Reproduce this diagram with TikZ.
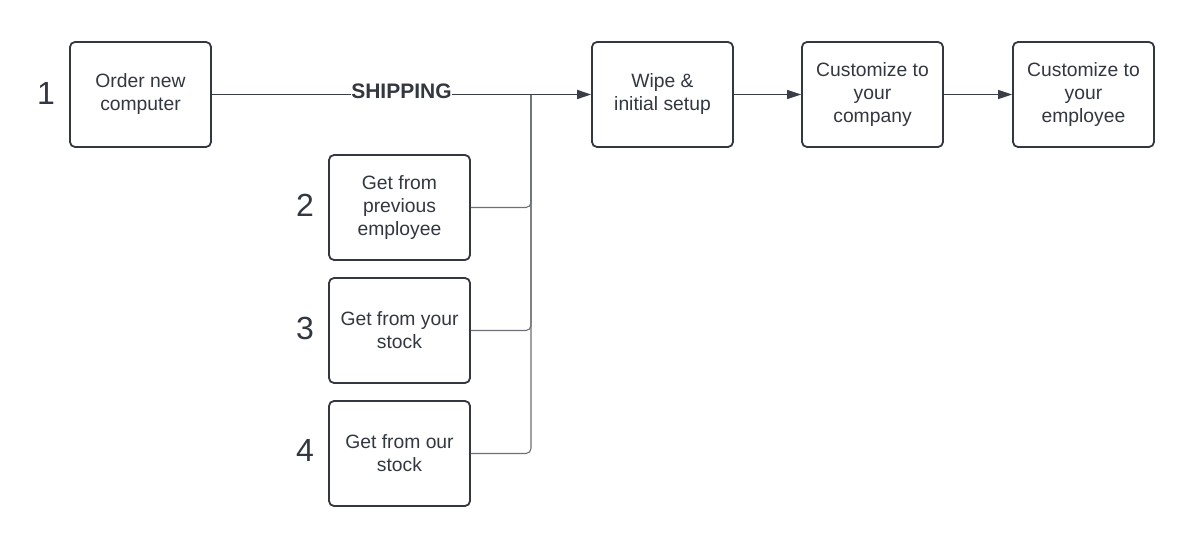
\documentclass[tikz,border=0pt]{standalone}
\usepackage{fontspec}
\setmainfont{Liberation Sans}
\usetikzlibrary{arrows.meta}
\definecolor{ink}{HTML}{333740}
\definecolor{lin}{HTML}{3A3E47}
\definecolor{glin}{HTML}{6E7077}
\begin{document}
\begin{tikzpicture}[x=1pt,y=-1pt,
  box/.style={draw=ink,line width=1.8pt,rounded corners=5pt,minimum width=141pt,minimum height=105pt,
    align=center,text=ink,font=\fontsize{19.3}{23}\selectfont,inner sep=0pt},
  num/.style={text=ink,font=\fontsize{32}{32}\selectfont},
  mainln/.style={draw=lin,line width=1.7pt},
  brln/.style={draw=glin,line width=1.1pt,rounded corners=5pt},
  arln/.style={draw=lin,line width=1.2pt},
  tip/.style={-{Triangle[length=14pt,width=9pt]}}]
\useasboundingbox (0,0) rectangle (1200,548);
\fill[white] (0,0) rectangle (1200,548);
\node[box] (b1) at (140.5,94.5) {Order new\\computer};
\node[box] (w) at (662.5,94.5) {Wipe \&\\initial setup};
\node[box] (c) at (872.5,94.5) {Customize to\\your\\company};
\node[box] (e) at (1083.5,94.5) {Customize to\\your\\employee};
\node[box] (b2) at (399.5,207.5) {Get from\\previous\\employee};
\node[box] (b3) at (399.5,330.5) {Get from your\\stock};
\node[box] (b4) at (399.5,453.5) {Get from our\\stock};
\node[num] (n1) at (46,93) {1};
\node[num] (n2) at (305,205) {2};
\node[num] (n3) at (305,328) {3};
\node[num] (n4) at (305,450) {4};
\coordinate (j) at (531,95);
\draw[brln] (b2.east) -| (j);
\draw[brln] (b3.east) -| (j);
\draw[brln] (b4.east) -| (j);
\draw[mainln,tip] (b1.east) -- node[fill=white,inner xsep=0pt,inner ysep=1pt,text=ink,font=\fontsize{21}{21}\selectfont\bfseries,yshift=3pt]{SHIPPING} (w.west);
\draw[arln,tip] (w.east) -- (c.west);
\draw[arln,tip] (c.east) -- (e.west);
\end{tikzpicture}
\end{document}
